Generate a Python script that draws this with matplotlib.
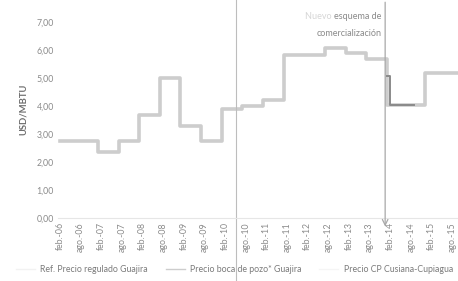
import pandas as pd
import matplotlib.pyplot as plt

# cambios de precio (mes de inicio) y valor en USD/MBTU
inicio = ['2006-02', '2007-01', '2007-07', '2008-01', '2008-07', '2009-01', '2009-07',
          '2010-01', '2010-07', '2011-01', '2011-07', '2012-07', '2013-01', '2013-07',
          '2014-01', '2014-12']
precio = [2.75, 2.37, 2.76, 3.68, 5.00, 3.30, 2.75, 3.88, 4.00, 4.20, 5.82, 6.07, 5.90,
          5.68, 4.04, 5.18]
fin = '2016-01'

# tramo Cusiana-Cupiagua (mas oscuro)
cusiana_meses = ['2014-01', '2014-02', '2014-03', '2014-04', '2014-05', '2014-06', '2014-07', '2014-08', '2014-09']
cusiana = [5.05, 4.04, 4.04, 4.04, 4.04, 4.04, 4.04, 4.04, 4.04]

etiquetas = ['feb.-06', 'ago.-06', 'feb.-07', 'ago.-07', 'feb.-08', 'ago.-08', 'feb.-09',
             'ago.-09', 'feb.-10', 'ago.-10', 'feb.-11', 'ago.-11', 'feb.-12', 'ago.-12',
             'feb.-13', 'ago.-13', 'feb.-14', 'ago.-14', 'feb.-15', 'ago.-15']

meses = pd.period_range('2006-02', fin, freq='M')
serie = pd.Series(index=meses, dtype=float)
for ini, p in zip(inicio, precio):
    serie[pd.Period(ini, 'M'):] = p
idx = list(range(len(meses)))
base = pd.Period('2006-02', 'M')
cus_idx = [(pd.Period(m, 'M') - base).n for m in cusiana_meses]

plt.rcParams['font.family'] = ['Lato', 'DejaVu Sans']
fig = plt.figure(figsize=(4.58, 2.81), dpi=100)
ax = fig.add_axes([58 / 458, 1 - 218 / 281, 400 / 458, 218 / 281])

ax.step(idx, serie.values, where='post', color='#cdcdcd', lw=2.6)
ax.step(cus_idx, cusiana, where='post', color='#8a8a8a', lw=1.4)

ax.set_xlim(-0.6, -0.6 + 400 / 3.44)
ax.set_ylim(0, 7.78)
ax.set_yticks([0, 1, 2, 3, 4, 5, 6, 7])
ax.set_yticklabels([('%.2f' % v).replace('.', ',') for v in range(8)])
ax.set_xticks(range(0, 6 * len(etiquetas), 6))
ax.set_xticklabels(etiquetas, rotation=90)
ax.tick_params(length=0, labelsize=6.3, colors='#8a8a8a', pad=3)
for s in ['top', 'right', 'left']:
    ax.spines[s].set_visible(False)
ax.spines['bottom'].set_color('#e6e6e6')
ax.set_ylabel('USD/MBTU', fontsize=6.8, fontweight='bold', color='#6e6e6e', labelpad=6)

# linea vertical del escaneo y flecha del nuevo esquema
ax.axvline(51, ymin=-0.3, ymax=1.1, color='#bdbdbd', lw=0.8, clip_on=False)
ax.annotate('', xy=(94.5, -0.4), xytext=(94.5, 7.8),
            arrowprops=dict(arrowstyle='->', color='#a8a8a8', lw=0.9), annotation_clip=False)
t1 = ax.text(93.5, 7.2, 'esquema de', color='#8a8a8a', fontsize=6.5, ha='right', va='center')
ax.annotate('Nuevo ', xy=(0, 0.5), xycoords=t1, color='#d6d6d6', fontsize=6.5,
            ha='right', va='center')
ax.text(93.5, 6.58, 'comercialización', color='#8a8a8a', fontsize=6.5, ha='right', va='center')

ax.plot([], [], color='#f2f2f2', lw=1, label='Ref. Precio regulado Guajira')
ax.plot([], [], color='#cdcdcd', lw=1, label='Precio boca de pozo* Guajira')
ax.plot([], [], color='#f5f5f5', lw=1, label='Precio CP Cusiana-Cupiagua')
leg = ax.legend(loc='center left', bbox_to_anchor=(-0.125, -0.235), ncol=3, frameon=False,
                fontsize=6.3, handlelength=2.2, columnspacing=2.0, handletextpad=0.6)
for t in leg.get_texts():
    t.set_color('#7a7a7a')

fig.savefig('out.png', dpi=100)
